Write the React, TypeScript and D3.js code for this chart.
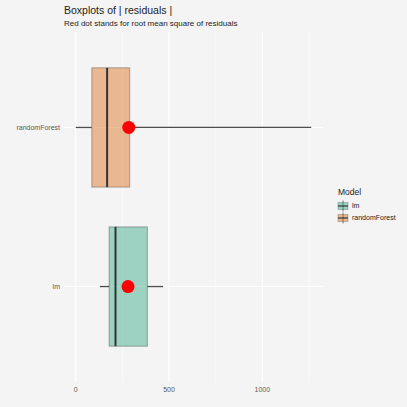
import React from 'react';
import * as d3 from 'd3';

const models = ['lm', 'randomForest'];
const colors = ['#1b9e77', '#d95f02'];
// five-number summaries: [whiskerLow, q1, median, q3, whiskerHigh]
const lowWhisker = [129, 0];
const q1 = [179, 86];
const medians = [213, 168];
const q3 = [384, 289];
const highWhisker = [468, 1262];
const rmse = [280, 284];
const xTicks = [0, 500, 1000];
const xMinor = [250, 750, 1250];

const W = 407;
const H = 407;
const bg = '#f4f4f4';

export default function App() {
  const margin = { top: 32, right: 84, bottom: 25, left: 64 };
  const pw = 323 - margin.left;
  const ph = 382 - margin.top;

  const x = d3.scaleLinear()
    .domain([0 - 0.05 * 1262, 1262 * 1.05])
    .range([margin.left, margin.left + pw]);

  // discrete axis: positions 1..n with 0.6 expansion
  const yPos = d3.scaleLinear()
    .domain([0.4, models.length + 0.6])
    .range([margin.top + ph, margin.top]);
  const unit = Math.abs(yPos(1) - yPos(0));
  const boxH = unit * 0.75;

  return (
    <svg width={W} height={H} style={{ position: 'absolute', left: 0, top: 0, background: bg }}
      fontFamily="Liberation Sans, Arial, sans-serif">
      <rect x={0} y={0} width={W} height={H} fill={bg} />
      {/* grid */}
      {xMinor.map(v => (
        <line key={'m' + v} x1={x(v)} x2={x(v)} y1={margin.top} y2={margin.top + ph}
          stroke="#fff" strokeWidth={0.5} />
      ))}
      {xTicks.map(v => (
        <line key={'M' + v} x1={x(v)} x2={x(v)} y1={margin.top} y2={margin.top + ph}
          stroke="#fff" strokeWidth={1.1} />
      ))}
      {models.map((m, i) => (
        <line key={'g' + m} x1={margin.left} x2={margin.left + pw} y1={yPos(i + 1)} y2={yPos(i + 1)}
          stroke="#fff" strokeWidth={1.1} />
      ))}

      {/* boxes */}
      {models.map((m, i) => {
        const cy = yPos(i + 1);
        return (
          <g key={m}>
            <line x1={x(lowWhisker[i])} x2={x(q1[i])} y1={cy} y2={cy} stroke="#4d4d4d" strokeWidth={1.3} />
            <line x1={x(q3[i])} x2={x(highWhisker[i])} y1={cy} y2={cy} stroke="#4d4d4d" strokeWidth={1.3} />
            <rect x={x(q1[i])} y={cy - boxH / 2} width={x(q3[i]) - x(q1[i])} height={boxH}
              fill={colors[i]} fillOpacity={0.4} stroke="#333" strokeOpacity={0.35} strokeWidth={1.1} />
            <line x1={x(medians[i])} x2={x(medians[i])} y1={cy - boxH / 2} y2={cy + boxH / 2}
              stroke="#333" strokeWidth={2} />
            <circle cx={x(rmse[i])} cy={cy} r={6.5} fill="#ff0000" />
          </g>
        );
      })}

      {/* axes labels */}
      {models.map((m, i) => (
        <text key={'yl' + m} x={margin.left - 4} y={yPos(i + 1)} dy="0.35em" textAnchor="end"
          fontSize={7} fill="#5a5a5a">{m}</text>
      ))}
      {xTicks.map(v => (
        <text key={'xl' + v} x={x(v)} y={392} textAnchor="middle" fontSize={7} fill="#5a5a5a">{v}</text>
      ))}

      {/* titles */}
      <text x={64} y={13.5} fontSize={10.5} fill="#222">Boxplots of | residuals |</text>
      <text x={64} y={25.5} fontSize={8} fill="#222">Red dot stands for root mean square of residuals</text>

      {/* legend */}
      <text x={338} y={195} fontSize={8.5} fill="#222">Model</text>
      {models.map((m, i) => {
        const ly = 206 + i * 12;
        return (
          <g key={'lg' + m}>
            <line x1={343} x2={343} y1={ly - 5.5} y2={ly + 5.5} stroke="#555" strokeWidth={0.8} />
            <rect x={338} y={ly - 3.5} width={10} height={7} fill={colors[i]} fillOpacity={0.4}
              stroke="#333" strokeOpacity={0.35} strokeWidth={0.8} />
            <line x1={338} x2={348} y1={ly} y2={ly} stroke="#333" strokeWidth={1.2} />
            <text x={352} y={ly} dy="0.35em" fontSize={7} fill="#222">{m}</text>
          </g>
        );
      })}
    </svg>
  );
}
